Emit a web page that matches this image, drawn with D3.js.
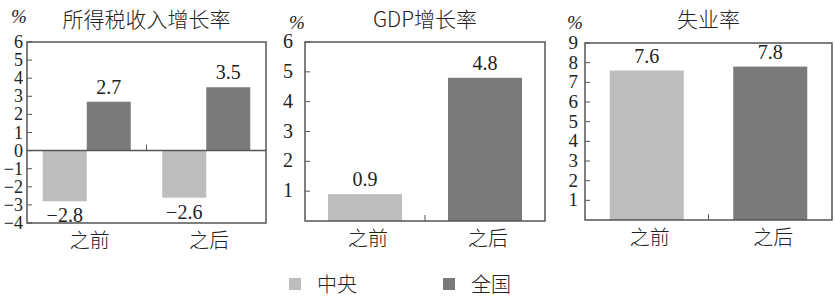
<!DOCTYPE html>
<html>
<head>
<meta charset="utf-8">
<script src="https://cdn.jsdelivr.net/npm/d3@7"></script>
<style>
  body { margin: 0; background: #fff; }
  text { fill: #222; }
  .num { font-family: "Liberation Serif", "DejaVu Serif", serif; }
  .cjk { font-family: "Noto Sans CJK SC", sans-serif; font-weight: 300; }
</style>
</head>
<body>
<script>
let categories = ["之前", "之后"];
let series = ["中央", "全国"];
let colors = ["#bdbdbd", "#7a7a7a"];

// 所得税收入增长率
let taxCentral = [-2.8, -2.6];
let taxNational = [2.7, 3.5];
let taxTicks = [-4, -3, -2, -1, 0, 1, 2, 3, 4, 5, 6];

// GDP增长率
let gdpValues = [0.9, 4.8];
let gdpTicks = [1, 2, 3, 4, 5, 6];

// 失业率
let unempValues = [7.6, 7.8];
let unempTicks = [1, 2, 3, 4, 5, 6, 7, 8, 9];

let titles = ["所得税收入增长率", "GDP增长率", "失业率"];

let svg = d3.select("body").append("svg")
    .attr("width", 835).attr("height", 300);

let fmt = d => d < 0 ? "\u2212" + Math.abs(d) : String(d);

let drawPanel = function (opt) {
    let g = svg.append("g");
    let y = d3.scaleLinear().domain(opt.domain).range([opt.bottom, opt.top]);
    let x = d3.scaleBand().domain(categories).range([opt.left, opt.right]);

    // bars
    opt.bars.forEach(b => {
        let x0 = x(b.cat) + x.bandwidth() / 2 + b.offset;
        let yTop = y(Math.max(0, b.value)), yBot = y(Math.min(0, b.value));
        g.append("rect")
            .attr("x", x0).attr("y", yTop)
            .attr("width", b.width).attr("height", yBot - yTop)
            .attr("fill", colors[b.series]);
        let lab = g.append("text").attr("class", "num")
            .attr("x", x0 + b.width / 2)
            .attr("text-anchor", "middle")
            .attr("font-size", 20)
            .text(fmt(b.value));
        if (b.value >= 0) lab.attr("y", yTop - 8);
        else lab.attr("y", yBot + 21);
    });

    // frame
    g.append("rect")
        .attr("x", opt.left).attr("y", opt.top)
        .attr("width", opt.right - opt.left).attr("height", opt.bottom - opt.top)
        .attr("fill", "none").attr("stroke", "#555").attr("stroke-width", 1.5);

    // zero line
    if (opt.domain[0] < 0) {
        g.append("line")
            .attr("x1", opt.left).attr("x2", opt.right)
            .attr("y1", y(0)).attr("y2", y(0))
            .attr("stroke", "#555").attr("stroke-width", 1.5);
    }

    // middle tick between categories
    let mid = x(categories[1]);
    let base = y(Math.max(0, opt.domain[0]));
    g.append("line")
        .attr("x1", mid).attr("x2", mid)
        .attr("y1", base).attr("y2", base - 6)
        .attr("stroke", "#555").attr("stroke-width", 1);

    // y axis ticks and labels
    opt.ticks.forEach(t => {
        g.append("line")
            .attr("x1", opt.left).attr("x2", opt.left + 5)
            .attr("y1", y(t)).attr("y2", y(t))
            .attr("stroke", "#555").attr("stroke-width", 1);
        g.append("text").attr("class", "num")
            .attr("x", opt.left - opt.labelGap)
            .attr("y", y(t) + 6)
            .attr("text-anchor", "end")
            .attr("font-size", opt.tickSize)
            .text(fmt(t));
    });

    // category labels
    categories.forEach(c => {
        g.append("text").attr("class", "cjk")
            .attr("x", x(c) + x.bandwidth() / 2 + 3)
            .attr("y", opt.bottom + 25)
            .attr("text-anchor", "middle")
            .attr("font-size", 20)
            .text(c);
    });

    // title and unit
    g.append("text").attr("class", "cjk")
        .attr("x", (opt.left + opt.right) / 2)
        .attr("y", 27)
        .attr("text-anchor", "middle")
        .attr("font-size", 21)
        .text(opt.title);
    g.append("text").attr("class", "num")
        .attr("x", opt.pctX).attr("y", opt.pctY)
        .attr("font-size", 19).attr("font-style", "italic")
        .text("%");
};

drawPanel({
    left: 27, right: 266, top: 42, bottom: 223,
    domain: [-4, 6], ticks: taxTicks, labelGap: 4, tickSize: 18,
    title: titles[0], pctX: 11, pctY: 23,
    bars: [
        {cat: categories[0], series: 0, value: taxCentral[0], offset: -44, width: 44},
        {cat: categories[0], series: 1, value: taxNational[0], offset: 0, width: 44},
        {cat: categories[1], series: 0, value: taxCentral[1], offset: -44, width: 44},
        {cat: categories[1], series: 1, value: taxNational[1], offset: 0, width: 44}
    ]
});

drawPanel({
    left: 305, right: 545, top: 42, bottom: 221,
    domain: [0, 6], ticks: gdpTicks, labelGap: 12, tickSize: 20,
    title: titles[1], pctX: 289, pctY: 29,
    bars: [
        {cat: categories[0], series: 0, value: gdpValues[0], offset: -37, width: 74},
        {cat: categories[1], series: 1, value: gdpValues[1], offset: -37, width: 74}
    ]
});

drawPanel({
    left: 585, right: 832, top: 43, bottom: 220,
    domain: [0, 9], ticks: unempTicks, labelGap: 7, tickSize: 19,
    title: titles[2], pctX: 567, pctY: 29,
    bars: [
        {cat: categories[0], series: 0, value: unempValues[0], offset: -37, width: 74},
        {cat: categories[1], series: 1, value: unempValues[1], offset: -37, width: 74}
    ]
});

// legend
let legendX = [289, 443];
series.forEach((s, i) => {
    svg.append("rect")
        .attr("x", legendX[i]).attr("y", 278)
        .attr("width", 12).attr("height", 12)
        .attr("fill", colors[i]);
    svg.append("text").attr("class", "cjk")
        .attr("x", legendX[i] + 28).attr("y", 292)
        .attr("font-size", 20)
        .text(s);
});
</script>
</body>
</html>
